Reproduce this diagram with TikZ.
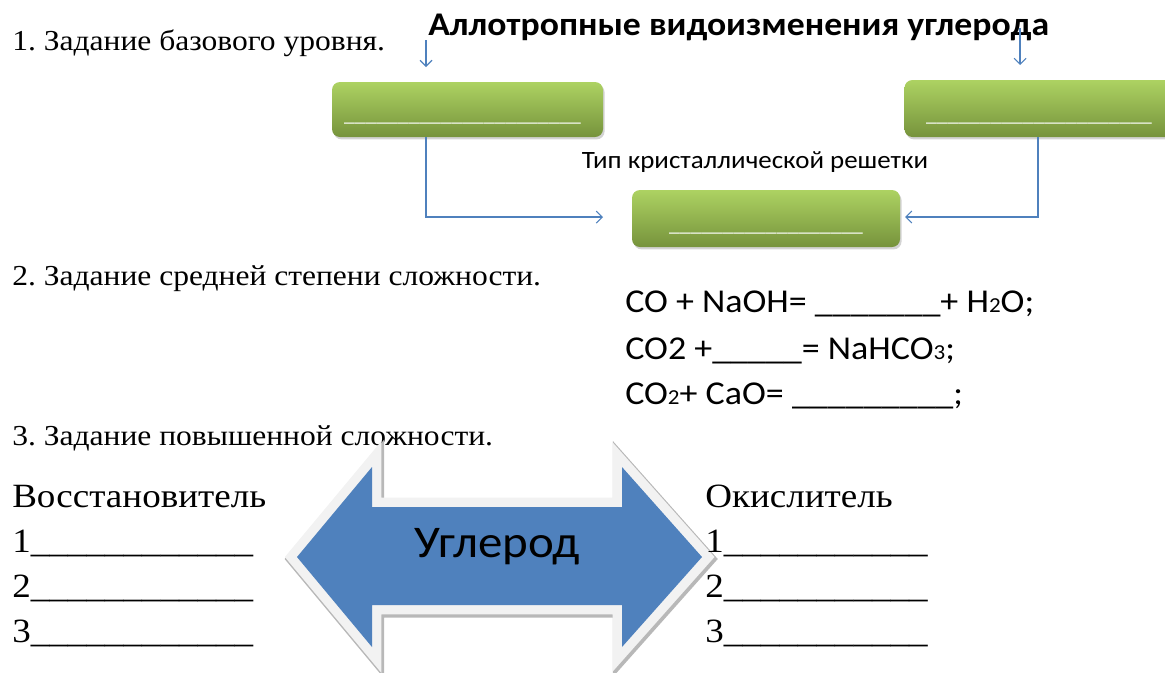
\documentclass[tikz,border=0pt]{standalone}
\usepackage{fontspec}
\setmainfont[FakeStretch=1.09]{Liberation Serif}
\newfontfamily\calib[FakeStretch=1.08]{Carlito}
\usetikzlibrary{arrows.meta,shadows}
\frenchspacing
\definecolor{lineblue}{HTML}{4F81BD}
\definecolor{arrowfill}{HTML}{4F81BD}
\definecolor{gtop}{HTML}{ADD262}
\definecolor{gbot}{HTML}{76933C}
\definecolor{frame}{HTML}{F2F2F2}
\definecolor{frameedge}{HTML}{B8B8B8}
\tikzset{
  plain/.style={inner sep=0pt, anchor=base west},
  tasktext/.style={plain, font=\fontsize{21.7}{26}\selectfont},
  listtext/.style={plain, font=\fontsize{25.5}{30}\selectfont},
  eqtext/.style={plain, font=\calib\fontsize{25}{30}\selectfont},
  gbox/.style={rounded corners=6pt, top color=gtop, bottom color=gbot, draw=none,
    inner sep=0pt, drop shadow={opacity=0.35, shadow xshift=1.2pt, shadow yshift=-1.8pt}},
  blank/.style={inner sep=0pt, anchor=base, text=white, font=\calib\fontsize{15}{18}\selectfont},
  link/.style={lineblue, line width=0.8pt, -{Straight Barb[length=4.5pt,width=9pt]}},
}
\newcommand{\smalldigit}[1]{{\fontsize{16}{18}\selectfont #1}}
\begin{document}
\begin{tikzpicture}[x=0.75pt,y=-0.75pt]
\useasboundingbox (0,0) rectangle (1165,672);

% headings
\node[tasktext] (t1) at (12,50) {1. Задание базового уровня.};
\node[plain, font=\calib\bfseries\fontsize{24.8}{29}\selectfont] (title) at (428,35) {Аллотропные видоизменения углерода};
\node[tasktext] (t2) at (12,285) {2. Задание средней степени сложности.};
\node[tasktext] (t3) at (12,445) {3. Задание повышенной сложности.};

% green boxes
\node[gbox, minimum width=203.25pt, minimum height=41.25pt] (b1) at (467.5,109.5) {};
\node[gbox, minimum width=203.25pt, minimum height=42.75pt] (b2) at (1040,108.5) {};
\node[gbox, minimum width=201pt, minimum height=42.75pt] (b3) at (766,218.5) {};
\node[blank] (b1t) at (462.5,121) {\_\_\_\_\_\_\_\_\_\_\_\_\_\_\_\_\_\_\_\_\_\_};
\node[blank] (b2t) at (1039,121) {\_\_\_\_\_\_\_\_\_\_\_\_\_\_\_\_\_\_\_\_\_};
\node[blank] (b3t) at (766,231) {\_\_\_\_\_\_\_\_\_\_\_\_\_\_\_\_\_\_};

\node[anchor=base, inner sep=0pt, font=\calib\fontsize{18.7}{22}\selectfont] (lattice) at (755,168) {Тип кристаллической решетки};

% connectors
\coordinate (s1) at (426,40);
\coordinate (e1) at (426,67);
\coordinate (s2) at (1020,28);
\coordinate (e2) at (1020,65);
\coordinate (c1) at (426,217);
\coordinate (c2) at (1038,217);
\coordinate (h1) at (603,217);
\coordinate (h2) at (905,217);
\draw[link] (s1) -- (e1);
\draw[link] (s2) -- (e2);
\draw[link] (b1.south -| c1) -- (c1) -- (h1);
\draw[link] (b2.south -| c2) -- (c2) -- (h2);

% equations
\node[eqtext] (eq1) at (625,312) {CO + NaOH= \_\_\_\_\_\_\_+ H\smalldigit{2}O;};
\node[eqtext] (eq2) at (625,359) {CO2 +\_\_\_\_\_= NaHCO\smalldigit{3};};
\node[eqtext] (eq3) at (625,404) {CO\smalldigit{2}+ CaO= \_\_\_\_\_\_\_\_\_;};

% double arrow
\def\arrowpath{(297,557) -- (372,467) -- (372,507) -- (622,507) -- (622,467) -- (702,557) -- (622,647) -- (622,605) -- (372,605) -- (372,647) -- cycle}
\draw[frameedge, line width=16pt, line join=miter, shift={(1.5,2)}] \arrowpath;
\draw[frame, line width=14pt, line join=miter] \arrowpath;
\fill[arrowfill] \arrowpath;
\node[anchor=base, inner sep=0pt, font=\calib\fontsize{34}{40}\selectfont] (carbon) at (497,557) {Углерод};

% lists
\node[listtext] (red) at (12,507) {Восстановитель};
\node[listtext] (r1) at (12,552) {1\_\_\_\_\_\_\_\_\_\_\_\_};
\node[listtext] (r2) at (12,597) {2\_\_\_\_\_\_\_\_\_\_\_\_};
\node[listtext] (r3) at (12,642) {3\_\_\_\_\_\_\_\_\_\_\_\_};
\node[listtext] (ox) at (705,507) {Окислитель};
\node[listtext] (o1) at (705,552) {1\_\_\_\_\_\_\_\_\_\_\_};
\node[listtext] (o2) at (705,597) {2\_\_\_\_\_\_\_\_\_\_\_};
\node[listtext] (o3) at (705,642) {3\_\_\_\_\_\_\_\_\_\_\_};
\end{tikzpicture}
\end{document}
